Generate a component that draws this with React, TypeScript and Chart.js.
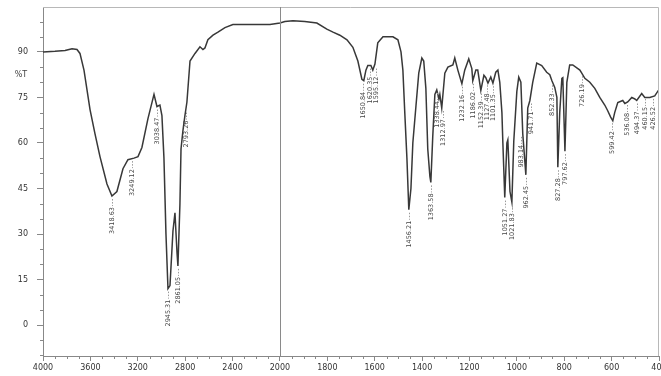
import React, { useEffect, useRef } from "react";
import { Chart, registerables } from "chart.js";

Chart.register(...registerables);

// IR spectrum: wavenumber (1/cm) and transmittance (%T)
const wavenumbers = [
  4000, 3899, 3814, 3755, 3713, 3688, 3654, 3603, 3561, 3519, 3460, 3418, 3376, 3325, 3283, 3232, 3198, 3165,
  3114, 3063, 3038, 3013, 2996, 2979, 2962, 2945, 2928, 2903, 2886, 2869, 2861, 2844, 2835, 2819, 2802, 2785,
  2759, 2717, 2675, 2650, 2633, 2608, 2565, 2523, 2464, 2397, 2253, 2084, 2000,
  1979, 1945, 1895, 1844, 1802, 1776, 1747, 1717, 1692, 1671, 1654, 1646, 1637, 1629, 1616, 1608, 1599, 1587,
  1565, 1523, 1502, 1489, 1481, 1473, 1464, 1456, 1447, 1439, 1426, 1414, 1401, 1393, 1384, 1376, 1367, 1363,
  1355, 1346, 1338, 1329, 1325, 1317, 1304, 1291, 1270, 1262, 1249, 1232, 1220, 1203, 1190, 1186, 1173, 1165,
  1152, 1139, 1131, 1122, 1110, 1101, 1089, 1080, 1072, 1063, 1059, 1051, 1042, 1038, 1029, 1021, 1013, 1000,
  992, 983, 975, 962, 954, 945, 933, 916, 895, 874, 861, 852, 840, 831, 827, 819, 810, 806, 797, 789, 777, 764,
  734, 726, 713, 692, 671, 650, 629, 617, 604, 595, 587, 574, 553, 544, 532, 515, 502, 494, 473, 460, 439, 418, 401,
];
const transmittance = [
  90, 90.2, 90.5, 91, 90.8, 89.5, 84, 71, 63, 55.5, 46.5, 42.5, 44, 51.5, 54.5, 55, 55.5, 58.5,
  68, 76, 72, 72.5, 69, 55, 30, 12, 13, 31, 37, 24, 19.5, 40, 58, 64, 69, 73.5,
  87, 89.5, 91.7, 90.8, 91.3, 94, 95.5, 96.5, 98, 99, 99, 99, 99.5,
  100, 100.3, 100, 99.5, 97.5, 96.5, 95.5, 94, 91.5, 87, 81, 80.5, 84, 85.5, 85.5, 84, 86, 93,
  95, 95, 94, 90, 84, 70, 55, 38, 45, 60, 72, 83, 88, 87, 78, 58, 49, 47,
  62, 76, 77.5, 74.5, 76, 71.5, 83, 85, 85.7, 88, 84, 79.5, 84, 87.7, 84.5, 80.5, 84, 84,
  77.3, 82.3, 81.5, 79.7, 81.7, 79.7, 83.3, 84, 80, 70, 60, 42, 60, 61, 44, 40.5, 60.5, 77,
  81.7, 80, 63, 49.5, 71.5, 74, 80, 86.3, 85.5, 83.3, 82.5, 80.5, 78.3, 75, 52, 70, 81.3, 81.5, 57.3, 80, 85.7, 85.7,
  84, 83, 81.3, 80, 78, 75, 72.5, 70.7, 68.5, 67.3, 70, 73.3, 74, 73, 73.5, 75, 74.5, 74, 76.3, 75, 75, 75.5, 77.5,
];

// Peak picks (label text is the wavenumber)
const peakWavenumbers = [
  3418.63, 3249.12, 3038.47, 2945.31, 2861.05, 2793.26, 1650.84, 1620.35, 1595.12, 1456.21, 1363.58, 1338.44,
  1312.97, 1232.16, 1186.02, 1152.39, 1127.48, 1101.35, 1051.27, 1021.83, 983.14, 962.45, 941.71, 852.33,
  827.28, 797.62, 726.19, 599.42, 536.08, 494.37, 460.15, 426.52,
];
const peakTransmittance = [
  42.5, 55, 72, 12, 19.5, 71, 80.5, 85.5, 85.5, 38, 47, 77.5,
  71.5, 79.5, 80.5, 77.3, 80, 79.7, 42, 40.5, 63, 49.5, 74, 80,
  52, 57.3, 83, 67.5, 73.5, 74, 75.5, 75.5,
];

const xTickLabels = [4000, 3600, 3200, 2800, 2400, 2000, 1800, 1600, 1400, 1200, 1000, 800, 600, 400];
const yTickValues = [0, 15, 30, 45, 60, 75, 90];

// axis position: 4000-2000 in steps of 400, 2000-400 in steps of 200, each step one unit
function toAxis(wn: number): number {
  return wn >= 2000 ? (4000 - wn) / 400 : 5 + (2000 - wn) / 200;
}

const decorPlugin = {
  id: "irDecor",
  afterDatasetsDraw(chart: any) {
    const { ctx, chartArea, scales } = chart;
    const xs = scales.x;
    const ys = scales.y;
    ctx.save();
    // frame top / right
    ctx.strokeStyle = "#b8b8b8";
    ctx.lineWidth = 1;
    ctx.beginPath();
    ctx.moveTo(chartArea.left, chartArea.top + 0.5);
    ctx.lineTo(chartArea.right - 0.5, chartArea.top + 0.5);
    ctx.lineTo(chartArea.right - 0.5, chartArea.bottom);
    ctx.stroke();
    // scale change line at 2000
    const x2000 = Math.round(xs.getPixelForValue(toAxis(2000))) + 0.5;
    ctx.strokeStyle = "#8a8a8a";
    ctx.beginPath();
    ctx.moveTo(x2000, chartArea.top);
    ctx.lineTo(x2000, chartArea.bottom);
    ctx.stroke();

    // minor ticks
    ctx.strokeStyle = "#888";
    ctx.beginPath();
    for (let u = 0; u <= 13.001; u += 0.25) {
      if (Math.abs(u - Math.round(u)) < 1e-6) continue;
      const px = Math.round(xs.getPixelForValue(u)) + 0.5;
      ctx.moveTo(px, chartArea.bottom);
      ctx.lineTo(px, chartArea.bottom + 3);
    }
    for (let v = -10; v <= 104; v += 5) {
      if (v % 15 === 0) continue;
      const py = Math.round(ys.getPixelForValue(v)) + 0.5;
      ctx.moveTo(chartArea.left, py);
      ctx.lineTo(chartArea.left - 3, py);
    }
    ctx.stroke();

    // %T
    ctx.fillStyle = "#444";
    ctx.font = "8px 'DejaVu Sans'";
    ctx.textAlign = "center";
    ctx.textBaseline = "middle";
    ctx.fillText("%T", 21, ys.getPixelForValue(82.5));

    // peak labels
    ctx.font = "6.5px 'DejaVu Sans'";
    for (let i = 0; i < peakWavenumbers.length; i++) {
      const px = Math.round(xs.getPixelForValue(toAxis(peakWavenumbers[i]))) + 0.5;
      const py = ys.getPixelForValue(peakTransmittance[i]);
      ctx.strokeStyle = "#999";
      ctx.setLineDash([1.5, 1.5]);
      ctx.beginPath();
      ctx.moveTo(px, py + 3);
      ctx.lineTo(px, py + 10);
      ctx.stroke();
      ctx.setLineDash([]);
      ctx.save();
      ctx.translate(px, py + 11);
      ctx.rotate(-Math.PI / 2);
      ctx.textAlign = "right";
      ctx.textBaseline = "middle";
      ctx.fillStyle = "#444";
      ctx.fillText(peakWavenumbers[i].toFixed(2), 0, 0);
      ctx.restore();
    }
    ctx.restore();
  },
};

export default function App() {
  const canvasRef = useRef<HTMLCanvasElement | null>(null);

  useEffect(() => {
    if (!canvasRef.current) return;
    const points = wavenumbers.map((wn, i) => ({ x: toAxis(wn), y: transmittance[i] }));
    const chart = new Chart(canvasRef.current, {
      type: "line",
      data: {
        datasets: [
          {
            data: points,
            borderColor: "#383838",
            borderWidth: 1.5,
            pointRadius: 0,
            tension: 0,
            fill: false,
          },
        ],
      },
      options: {
        responsive: false,
        animation: false,
        events: [],
        layout: { padding: { top: 7, right: 2, left: 0, bottom: 0 } },
        plugins: { legend: { display: false }, tooltip: { enabled: false } },
        scales: {
          x: {
            type: "linear",
            min: 0,
            max: 13,
            afterBuildTicks: (scale: any) => {
              scale.ticks = xTickLabels.map((_, i) => ({ value: i }));
            },
            afterFit: (scale: any) => {
              scale.height = 20;
              scale.paddingLeft = 0;
              scale.paddingRight = 0;
            },
            ticks: {
              autoSkip: false,
              maxRotation: 0,
              padding: 2,
              color: "#333",
              font: { size: 8, family: "'DejaVu Sans'" },
              callback: (v: any) => String(xTickLabels[Math.round(Number(v))] ?? ""),
            },
            grid: { drawOnChartArea: false, drawTicks: true, tickLength: 5, color: "#888" },
            border: { color: "#888" },
          },
          y: {
            type: "linear",
            min: -10.2,
            max: 104.8,
            afterBuildTicks: (scale: any) => {
              scale.ticks = yTickValues.map((v) => ({ value: v }));
            },
            afterFit: (scale: any) => {
              scale.width = 43;
              scale.paddingTop = 0;
              scale.paddingBottom = 0;
            },
            ticks: {
              autoSkip: false,
              padding: 9,
              color: "#333",
              font: { size: 8, family: "'DejaVu Sans'" },
              callback: (v: any) => String(v),
            },
            grid: { drawOnChartArea: false, drawTicks: true, tickLength: 6, color: "#888" },
            border: { color: "#888" },
          },
        },
      },
      plugins: [decorPlugin],
    });
    return () => chart.destroy();
  }, []);

  return (
    <div style={{ position: "absolute", left: 0, top: 0, width: 661, height: 376, background: "#fff" }}>
      <canvas ref={canvasRef} width={661} height={376} style={{ display: "block" }} />
    </div>
  );
}
